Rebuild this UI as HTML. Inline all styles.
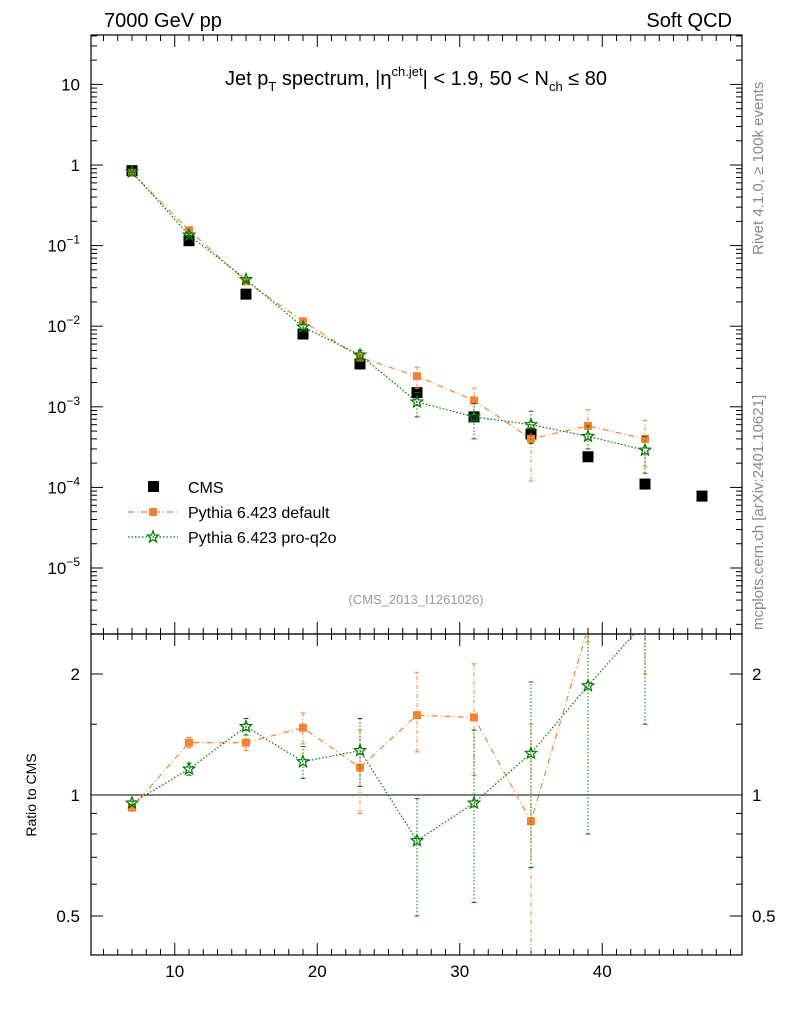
<!DOCTYPE html>
<html><head><meta charset="utf-8"><style>
body{margin:0;background:#fff;font-family:"Liberation Sans",sans-serif}
svg text{font-family:"Liberation Sans",sans-serif}
</style></head><body>
<svg id="c" width="786" height="1024" xmlns="http://www.w3.org/2000/svg">
<text x="104" y="27" font-size="20">7000 GeV pp</text>
<text x="732" y="27" font-size="20" text-anchor="end">Soft QCD</text>
<text x="416" y="85" font-size="20" text-anchor="middle">Jet p<tspan font-size="13" dy="6">T</tspan><tspan dy="-6"> spectrum, |η</tspan><tspan font-size="13" dy="-9">ch.jet</tspan><tspan dy="9">| &lt; 1.9, 50 &lt; N</tspan><tspan font-size="13" dy="6">ch</tspan><tspan dy="-6"> ≤ 80</tspan></text>
<text x="416" y="604" font-size="13" fill="#999" text-anchor="middle">(CMS_2013_I1261026)</text>
<text transform="translate(763,255) rotate(-90)" font-size="15" fill="#888">Rivet 4.1.0, ≥ 100k events</text>
<text transform="translate(763,630) rotate(-90)" font-size="15" fill="#888">mcplots.cern.ch [arXiv:2401.10621]</text>
<text transform="translate(36,795) rotate(-90)" font-size="14" text-anchor="middle">Ratio to CMS</text>
<g id="main"></g><g id="ratio"></g>
<g>
<rect x="148" y="481" width="11" height="11" fill="#000"/>
<text x="188" y="493" font-size="16">CMS</text>
<line x1="128" y1="512" x2="178" y2="512" stroke="#f58231" stroke-width="1.2" stroke-dasharray="6,3,1,3"/>
<rect x="149" y="508" width="8" height="8" fill="#f58231"/>
<text x="188" y="518" font-size="16">Pythia 6.423 default</text>
<line x1="128" y1="537" x2="178" y2="537" stroke="#007700" stroke-width="1.2" stroke-dasharray="1.5,2"/>
<polygon points="153,531 154.5,535 158.7,535.1 155.4,537.8 156.5,541.9 153,539.5 149.5,541.9 150.6,537.8 147.3,535.1 151.5,535" fill="none" stroke="#007700" stroke-width="1.2"/>
<text x="188" y="543" font-size="16">Pythia 6.423 pro-q2o</text>
</g>
</svg>
<script>
const pts=[7,11,15,19,23,27,31,35,39,43,47];
const cms=[0.85,0.115,0.025,0.008,0.0034,0.0015,0.00075,0.00046,0.00024,0.00011,0.000078];
const defVals=[0.80,0.155,0.036,0.0115,0.0041,0.0024,0.0012,0.0004,0.00058,0.0004];
const defLo=[0.78,0.15,0.034,0.011,0.0037,0.0017,0.0008,0.00012,0.0004,0.00018];
const defHi=[0.82,0.16,0.038,0.012,0.0045,0.0031,0.0017,0.0006,0.00092,0.00068];
const proVals=[0.82,0.135,0.038,0.0098,0.0044,0.00115,0.00075,0.0006,0.00043,0.00029];
const proLo=[0.80,0.13,0.036,0.0092,0.0038,0.00075,0.0004,0.00035,0.0003,0.00015];
const proHi=[0.84,0.14,0.040,0.0104,0.005,0.0015,0.0011,0.00088,0.00058,0.00043];
const defRatio=[0.93,1.35,1.35,1.47,1.17,1.58,1.56,0.86,2.6,3.6];
const defRLo=[0.92,1.31,1.29,1.34,0.9,1.28,1.12,0.3,2.4,2.0];
const defRHi=[0.94,1.39,1.41,1.6,1.45,2.02,2.12,1.5,2.8,5];
const proRatio=[0.955,1.16,1.48,1.21,1.29,0.77,0.955,1.27,1.87,2.7];
const proRLo=[0.945,1.12,1.41,1.1,1.05,0.5,0.54,0.66,0.8,1.5];
const proRHi=[0.965,1.2,1.55,1.32,1.55,0.98,1.45,1.91,2.6,4];
const xTicks=[10,20,30,40];
const NS="http://www.w3.org/2000/svg";
const L=91,R=742,T=35,MB=634,RB=955;
const X=v=>132+(v-7)*14.25;
const Y=v=>165-Math.log10(v)*80.6;
const YR=v=>795-Math.log2(v)*121;
function el(p,t,a){const e=document.createElementNS(NS,t);for(const k in a)e.setAttribute(k,a[k]);p.appendChild(e);return e;}
const svg=document.getElementById('c');
const main=document.getElementById('main'),ratio=document.getElementById('ratio');
let f=el(main,'rect',{x:L,y:T,width:R-L,height:MB-T,fill:'none',stroke:'#000','stroke-width':1.2});

f=el(ratio,'rect',{x:L,y:MB,width:R-L,height:RB-MB,fill:'none',stroke:'#000','stroke-width':1.2});

for(let v=5;v<=49;v++){const x=X(v);const big=v%10==0;const s=big?12:6;
 [[T,1],[MB,-1],[MB,1],[RB,-1]].forEach(([y,d])=>el(main,'line',{x1:x,x2:x,y1:y,y2:y+d*s,stroke:'#000'}));}
xTicks.forEach(v=>{const t=el(ratio,'text',{x:X(v),y:977,'font-size':17,'text-anchor':'middle'});t.textContent=v;
 });
for(let d=-6;d<=1;d++){for(let m=1;m<10;m++){const v=m*Math.pow(10,d);const y=Y(v);if(y<T||y>MB)continue;const s=m==1?12:6;
 el(main,'line',{x1:L,x2:L+s,y1:y,y2:y,stroke:'#000'});el(main,'line',{x1:R,x2:R-s,y1:y,y2:y,stroke:'#000'});}
 const y=Y(Math.pow(10,d));if(y<T||y>MB)continue;
 const t=el(main,'text',{x:80,y:y+6,'font-size':17,'text-anchor':'end'});
 
 if(d==0)t.textContent='1';else if(d==1)t.textContent='10';else{t.textContent='10';const ts=el(t,'tspan',{dy:-8,'font-size':12});ts.textContent='−'+(-d);}}
[0.4,0.5,0.6,0.7,0.8,0.9,1,1.5,2].forEach(v=>{const y=YR(v);const big=[0.5,1,2].includes(v);const s=big?12:6;
 el(ratio,'line',{x1:L,x2:L+s,y1:y,y2:y,stroke:'#000'});el(ratio,'line',{x1:R,x2:R-s,y1:y,y2:y,stroke:'#000'});
 if(big){[[80,'end'],[752,'start']].forEach(([x,a])=>{const t=el(ratio,'text',{x:x,y:y+6,'font-size':17,'text-anchor':a});t.textContent=v;
 });}});
el(ratio,'line',{x1:L,x2:R,y1:YR(1),y2:YR(1),stroke:'#000'});
const defs=el(svg,'defs',{});
el(el(defs,'clipPath',{id:'cm'}),'rect',{x:L,y:T,width:R-L,height:MB-T});
el(el(defs,'clipPath',{id:'cr'}),'rect',{x:L,y:MB,width:R-L,height:RB-MB});
const gm=el(main,'g',{'clip-path':'url(#cm)'}),gr=el(ratio,'g',{'clip-path':'url(#cr)'});
function star(g,x,y,c){let p='';for(let i=0;i<10;i++){const r=i%2?2.6:6;const a=-Math.PI/2+i*Math.PI/5;p+=(x+r*Math.cos(a)).toFixed(1)+','+(y+r*Math.sin(a)).toFixed(1)+' ';}
 return el(g,'polygon',{points:p,fill:'none',stroke:c,'stroke-width':1.2});}
function series(g,vals,lo,hi,Yf,col,dash,kind,name){
 let d='';vals.forEach((v,i)=>{d+=(i?'L':'M')+X(pts[i])+','+Yf(v);});
 const ln=el(g,'path',{d:d,fill:'none',stroke:col,'stroke-width':1.2,'stroke-dasharray':dash});
 
 vals.forEach((v,i)=>{const x=X(pts[i]);
  el(g,'line',{x1:x,x2:x,y1:Yf(lo[i]),y2:Yf(hi[i]),stroke:col,'stroke-dasharray':dash=='1.5,2'?'1.5,2':'4,2,1,2'});
  [lo[i],hi[i]].forEach(w=>el(g,'line',{x1:x-2.5,x2:x+2.5,y1:Yf(w),y2:Yf(w),stroke:col}));
  let m;if(kind=='sq')m=el(g,'rect',{x:x-4,y:Yf(v)-4,width:8,height:8,fill:col});else m=star(g,x,Yf(v),col);
  });}
cms.forEach((v,i)=>{const r=el(gm,'rect',{x:X(pts[i])-5.5,y:Y(v)-5.5,width:11,height:11,fill:'#000'});
 });
series(gm,defVals,defLo,defHi,Y,'#f58231','6,3,1,3','sq','default');
series(gm,proVals,proLo,proHi,Y,'#007700','1.5,2','st','proq2o');
series(gr,defRatio,defRLo,defRHi,YR,'#f58231','6,3,1,3','sq','default-ratio');
series(gr,proRatio,proRLo,proRHi,YR,'#007700','1.5,2','st','proq2o-ratio');
</script>
</body></html>
